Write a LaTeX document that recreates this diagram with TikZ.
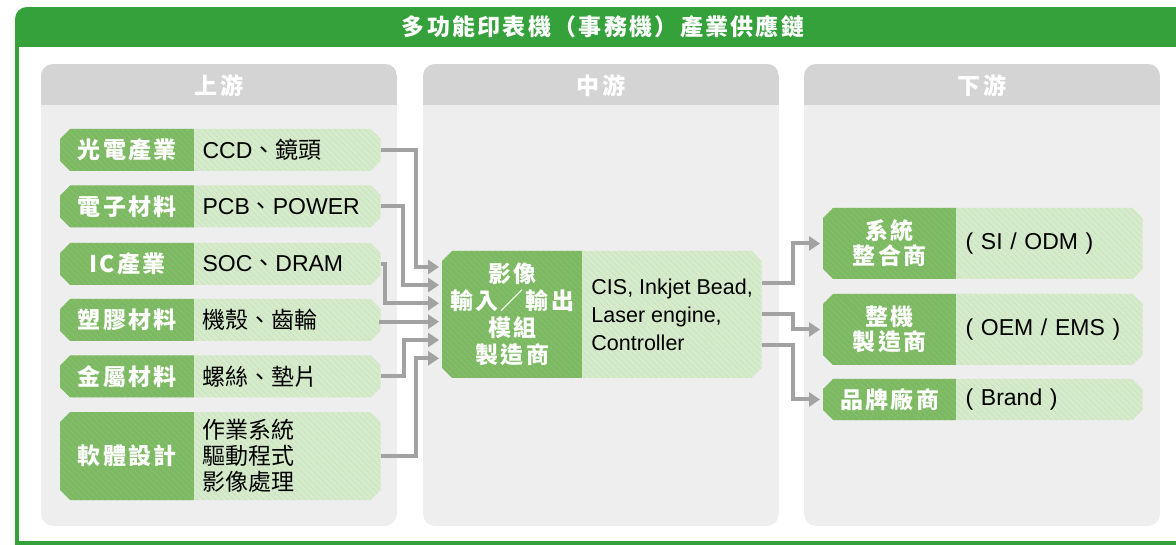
\documentclass[tikz,border=0pt]{standalone}
\usepackage{fontspec}
\setmainfont{Liberation Sans}
\newfontfamily\cjk{Noto Sans CJK TC}
\newfontfamily\cjkhd[LetterSpace=10]{Noto Sans CJK TC}
\usetikzlibrary{arrows.meta, shapes.misc, patterns.meta}

\definecolor{hdrgreen}{RGB}{52,161,58}
\definecolor{labgreen}{RGB}{124,185,98}
\definecolor{labstripe}{RGB}{134,193,109}
\definecolor{detgreen}{RGB}{214,235,204}
\definecolor{detstripe}{RGB}{201,228,189}
\definecolor{panelhead}{RGB}{212,212,212}
\definecolor{panelbody}{RGB}{238,238,238}
\definecolor{flowgray}{RGB}{162,162,162}

\tikzstyle{lab} = [chamfered rectangle, chamfered rectangle xsep=5pt,
                 chamfered rectangle ysep=5pt,
                 chamfered rectangle corners={north west,south west},
                 fill=labgreen, postaction={pattern={Lines[angle=-45,distance=4pt,line width=1.2pt]}, pattern color=labstripe},
                 text=white, align=center, inner sep=0pt,
                 font=\cjkhd\bfseries\fontsize{23}{26}\selectfont]
\tikzstyle{det} = [chamfered rectangle, chamfered rectangle xsep=5pt,
                 chamfered rectangle ysep=5pt,
                 chamfered rectangle corners={north east,south east},
                 fill=detgreen, postaction={pattern={Lines[angle=-45,distance=4pt,line width=1.2pt]}, pattern color=detstripe},
                 text=black, align=left, inner ysep=0pt, anchor=west,
                 font=\fontsize{23}{26}\selectfont]
\tikzstyle{flow} = [draw=flowgray, line width=4pt,
                 -{Triangle[length=11pt,width=14pt]}, shorten >=3pt]

\begin{document}
\begin{tikzpicture}[x=1pt, y=-1pt]

\useasboundingbox (0,0) rectangle (1176,545);

%frame
\begin{scope}
\clip[rounded corners=12] (15,7) rectangle (1200,560);
\fill[hdrgreen] (15,7) rectangle (1200,47);
\draw[hdrgreen, line width=4pt] (17,40) -- (17,543) -- (1200,543);
\end{scope}
\node[text=white, font=\cjkhd\bfseries\fontsize{23}{26}\selectfont] (title) at (603,27) {多功能印表機（事務機）產業供應鏈};

%panels
\foreach \x/\n/\t in {41/up/上游, 423/mid/中游, 804/down/下游} {
	\begin{scope}
	\clip[rounded corners=12] (\x,64) rectangle ++(356,462);
	\fill[panelbody] (\x,64) rectangle ++(356,462);
	\fill[panelhead] (\x,64) rectangle ++(356,41);
	\end{scope}
	\node[text=white, font=\cjkhd\bfseries\fontsize{23}{26}\selectfont] (\n) at (\x+178,86) {\t};
}

%upstream
\foreach \y/\n/\h/\l/\d in {150/opto/42/光電產業/{CCD{\cjk 、鏡頭}},
		206.5/elec/42/電子材料/{PCB{\cjk 、}POWER},
		264/ic/42/IC產業/{SOC{\cjk 、}DRAM},
		320/plas/42/塑膠材料/{\cjk 機殼、齒輪},
		376.5/metal/42/金屬材料/{\cjk 螺絲、墊片},
		456/soft/88/軟體設計/{\cjk 作業系統\\驅動程式\\影像處理}} {
	\node[lab, minimum width=134pt, minimum height=\h pt, anchor=west] (\n) at (60,\y) {\l};
	\node[det, minimum height=\h pt, text width=170pt, inner xsep=3pt] (\n-d) at (\n.east) {\d};
}

%midstream
\node[lab, minimum width=140pt, minimum height=127pt, anchor=west,
	font=\cjkhd\bfseries\fontsize{23}{27}\selectfont] (mod) at (442,314.5) {影像\\輸入／輸出\\模組\\製造商};
\node[det, minimum width=179pt, minimum height=127pt, inner xsep=0pt,
	font=\fontsize{21.5}{28}\selectfont] (mod-d) at (mod.east) {CIS, Inkjet Bead,\\Laser engine,\\Controller};

%downstream
\foreach \y/\n/\h/\l/\d in {243.5/si/71/{系統\\整合商}/{( SI / ODM )},
		329.5/oem/71/{整機\\製造商}/{( OEM / EMS )},
		399.5/brand/41/品牌廠商/{( Brand )}} {
	\node[lab, minimum width=133pt, minimum height=\h pt, anchor=west,
		font=\cjkhd\bfseries\fontsize{23}{25}\selectfont] (\n) at (823,\y) {\l};
	\node[det, minimum height=\h pt, text width=168pt, inner xsep=4pt] (\n-d) at (\n.east) {\d};
}

%arrows
\foreach \s/\dx/\dy in {opto/35/47.5, elec/22/29.5, ic/4/11.2, plas/0/-7.2, metal/23/-25.5, soft/35/-43.8}
	\draw[flow] (\s-d.east) -- ++(\dx,0) |- ([yshift=\dy pt]mod.west);
\draw[flow] ([yshift=31.5pt]mod-d.east) -- ++(31,0) |- (si.west);
\draw[flow] (mod-d.east) -- ++(31,0) |- (oem.west);
\draw[flow] ([yshift=-30.5pt]mod-d.east) -- ++(31,0) |- (brand.west);

\end{tikzpicture}
\end{document}
